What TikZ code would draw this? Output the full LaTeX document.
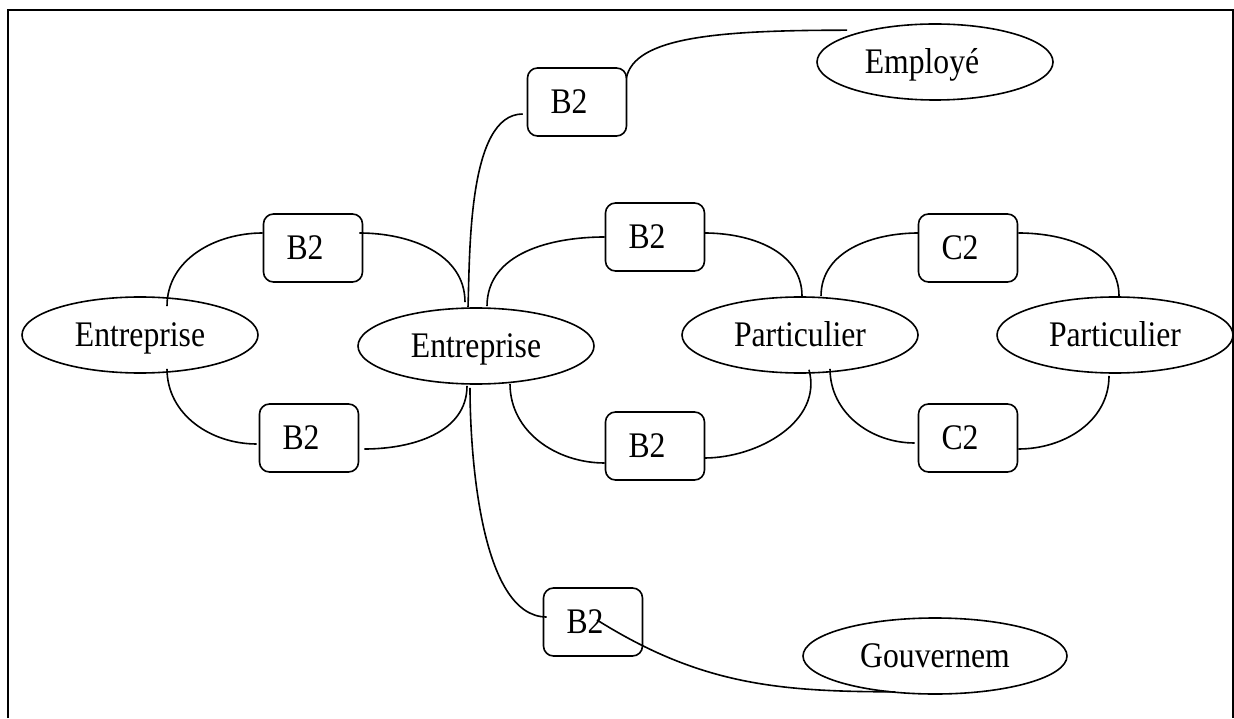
\documentclass[tikz,border=0pt]{standalone}
\usepackage{fontspec}
\setmainfont{Liberation Serif}[FakeStretch=0.88]
\usetikzlibrary{shapes.geometric,calc}

\begin{document}
\begin{tikzpicture}[x=0.5pt,y=0.5pt,
        font=\fontsize{18}{21}\selectfont,
        entite/.style={ellipse,draw,line width=0.8pt,minimum width=118pt,minimum height=38pt,inner sep=0pt,text height=11.9pt,text depth=0pt},
        relais/.style={draw,rounded corners=5pt,line width=0.8pt,minimum height=34pt,text width=26.5pt,inner xsep=11.5pt,align=left},
        lien/.style={line width=0.8pt}]

        \useasboundingbox (0,0) rectangle (1234,718);

        % Cadre
        \draw[line width=1pt] (8,0) -- (8,708) -- (1233,708) -- (1233,0);

        % Entites
        \node[entite] (entG) at (140,383) {Entreprise};
        \node[entite] (entC) at (476,372) {Entreprise};
        \node[entite] (partG) at (800,383) {Particulier};
        \node[entite] (partD) at (1115,383) {Particulier};
        \node[entite] (emp) at (935,656) {Employé\hspace*{13pt}};
        \node[entite,minimum width=132pt] (gouv) at (935,62) {Gouvernem};

        % Relais
        \node[relais] (bHG) at (313,470) {B2};
        \node[relais] (bBG) at (309,280) {B2};
        \node[relais] (bE) at (577,616) {B2};
        \node[relais] (bHM) at (655,481) {B2};
        \node[relais] (bBM) at (655,272) {B2};
        \node[relais] (cH) at (968,470) {C2};
        \node[relais] (cB) at (968,280) {C2};
        \node[relais] (bGv) at (593,96) {B2};

        % Liens de gauche
        \draw[lien] ($(entG.north)+(27,-10)$) to[out=90,in=180] ($(bHG.west)+(0,15)$);
        \draw[lien] ($(bHG.east)+(-4,15)$) to[out=0,in=90] ($(entC.north)+(-11,5)$);
        \draw[lien] ($(entG.south)+(27,5)$) to[out=-90,in=180] ($(bBG.west)+(-2,-6)$);
        \draw[lien] ($(bBG.east)+(5,-11)$) to[out=0,in=-90] ($(entC.south)+(-9,-1)$);

        % Employe et gouvernement
        \draw[lien] ($(entC.north)+(-8,0)$) to[out=88,in=180,looseness=0.7] ($(bE.west)+(-4,-12)$);
        \draw[lien] ($(bE.north east)+(-1,-11)$) .. controls ($(bE.north east)+(7,30)$) and ($(emp.north)+(-218,-7)$) .. ($(emp.north)+(-88,-7)$);
        \draw[lien] ($(entC.south)+(-6,-3)$) to[out=-90,in=180,looseness=0.7] ($(bGv.west)+(4,5)$);
        \draw[lien] ($(bGv.center)+(4,2)$) to[out=-32,in=180] ($(gouv.south)+(-40,3)$);

        % Liens du milieu
        \draw[lien] ($(entC.north)+(11,1)$) to[out=90,in=180] (bHM.west);
        \draw[lien] ($(bHM.east)+(-1,4)$) to[out=0,in=90] ($(partG.north)+(2,0)$);
        \draw[lien] ($(entC.south)+(34,1)$) to[out=-90,in=180] ($(bBM.west)+(0,-17)$);
        \draw[lien] ($(bBM.east)+(-1,-12)$) to[out=0,in=-75] ($(partG.south)+(9,4)$);

        % Liens de droite
        \draw[lien] ($(partG.north)+(21,0)$) to[out=90,in=180] ($(cH.west)+(1,15)$);
        \draw[lien] ($(cH.east)+(0,15)$) to[out=0,in=90] ($(partD.north)+(4,0)$);
        \draw[lien] ($(partG.south)+(30,5)$) to[out=-90,in=180] ($(cB.west)+(-3,-5)$);
        \draw[lien] ($(cB.east)+(0,-11)$) to[out=0,in=-90] ($(partD.south)+(-6,-2)$);

\end{tikzpicture}
\end{document}
